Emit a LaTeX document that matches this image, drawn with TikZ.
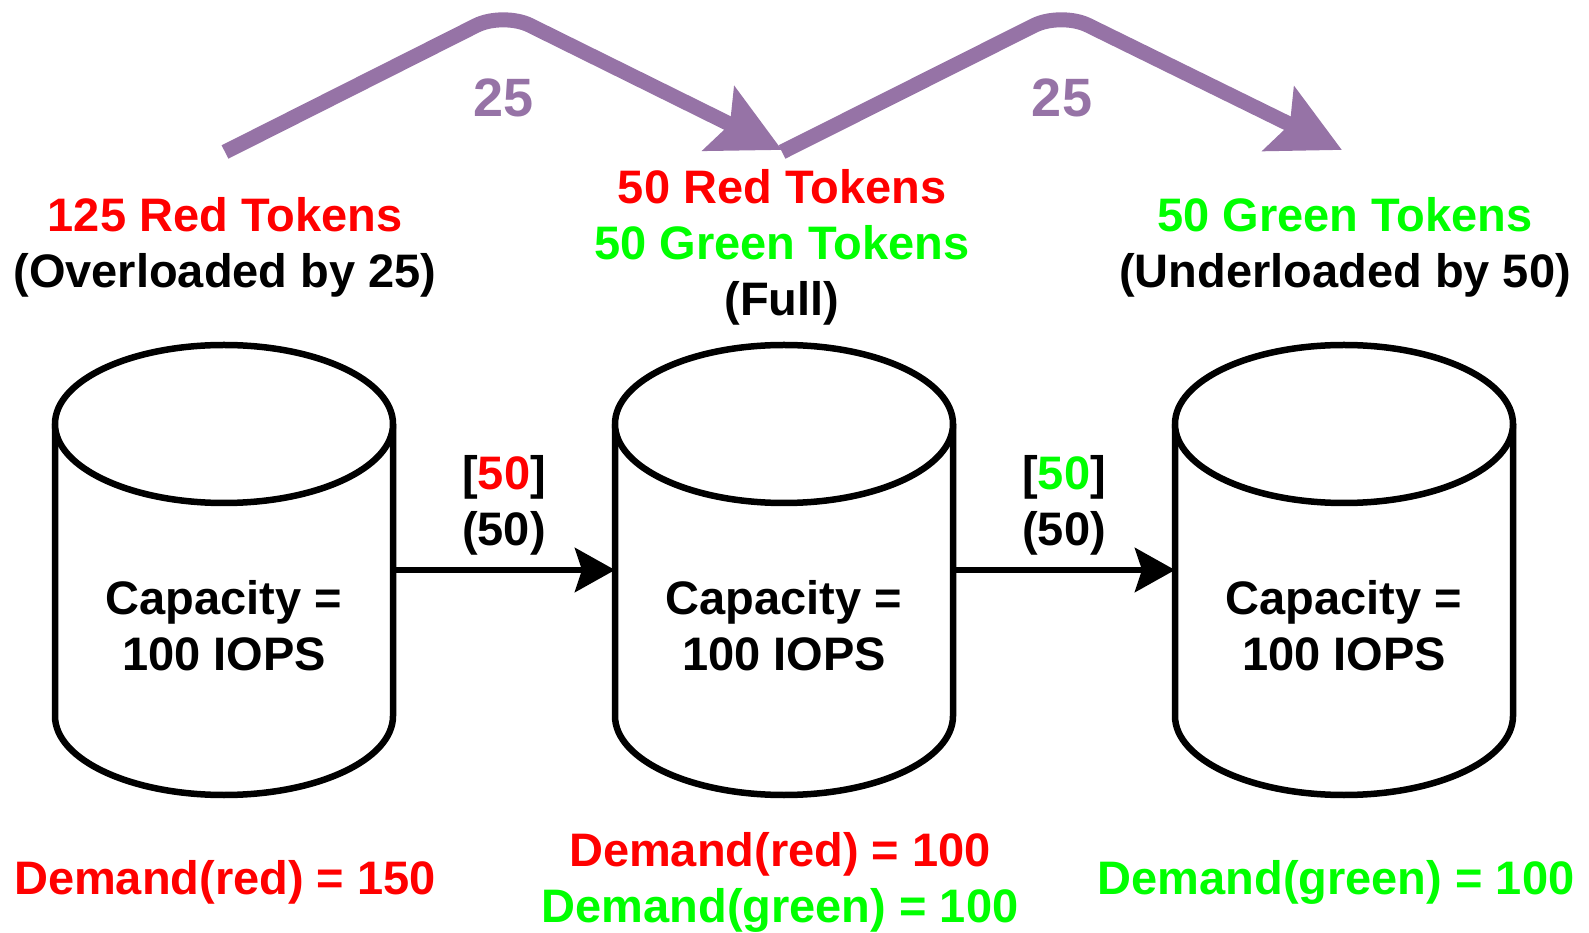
\documentclass[tikz,border=0pt]{standalone}
\usepackage{fontspec}
\setmainfont{Liberation Sans}
\usetikzlibrary{arrows.meta,calc}
\definecolor{rd}{HTML}{FF0000}
\definecolor{gn}{HTML}{00FF00}
\definecolor{pp}{HTML}{9673A6}
\tikzset{
 lbl/.style={font=\fontsize{47}{56}\selectfont\bfseries, align=center, inner sep=0pt},
 num/.style={font=\fontsize{54}{60}\selectfont\bfseries, text=pp, inner sep=0pt},
 cylbox/.style={minimum width=338pt, minimum height=450pt, inner sep=0pt, outer sep=0pt},
 cylline/.style={line width=6.5pt, fill=white},
 flow/.style={line width=6.5pt, -{Stealth[length=40pt,width=44pt,inset=7pt]}},
 token/.style={draw=pp, line width=15pt, rounded corners=30pt, -{Stealth[length=70pt,width=70pt,inset=12pt]}},
}
\newcommand\drawcyl[1]{%
  \draw[cylline] ($(#1.north west)+(0,-79)$) -- ($(#1.south west)+(0,79)$) arc[start angle=180,end angle=360,x radius=169,y radius=79] -- ($(#1.north east)+(0,-79)$);
  \draw[cylline] ($(#1.north)+(0,-79)$) ellipse[x radius=169, y radius=79];
}
\begin{document}
\begin{tikzpicture}[x=1pt,y=1pt]
\useasboundingbox (0,0) rectangle (1589,932);
% cylinders
\node[cylbox] (c1) at (224,362) {};
\node[cylbox] (c2) at (784,362) {};
\node[cylbox] (c3) at (1344,362) {};
\drawcyl{c1}
\drawcyl{c2}
\drawcyl{c3}
\node[lbl] (cap1) at ($(c1.center)+(0,-56)$) {Capacity =\\100 IOPS};
\node[lbl] (cap2) at ($(c2.center)+(0,-56)$) {Capacity =\\100 IOPS};
\node[lbl] (cap3) at ($(c3.center)+(0,-56)$) {Capacity =\\100 IOPS};
% flows
\draw[flow] (c1.east) -- (c2.west);
\draw[flow] (c2.east) -- (c3.west);
\node[lbl] (f1) at ($(c1.east)!0.5!(c2.west)+(0,65)$) {[\textcolor{rd}{50}]\\(50)};
\node[lbl] (f2) at ($(c2.east)!0.5!(c3.west)+(0,65)$) {[\textcolor{gn}{50}]\\(50)};
% top texts
\node[lbl] (s1) at (225,685) {\textcolor{rd}{125 Red Tokens}\\(Overloaded by 25)};
\node[lbl] (s2) at (782,685) {\textcolor{rd}{50 Red Tokens}\\\textcolor{gn}{50 Green Tokens}\\(Full)};
\node[lbl] (s3) at (1345,685) {\textcolor{gn}{50 Green Tokens}\\(Underloaded by 50)};
% demand texts
\node[lbl, text=rd] (d1) at (225,50) {Demand(red) = 150};
\node[lbl] (d2) at (780,50) {\textcolor{rd}{Demand(red) = 100}\\\textcolor{gn}{Demand(green) = 100}};
\node[lbl, text=gn] (d3) at (1336,50) {Demand(green) = 100};
% token transfers
\coordinate (t1s) at (225,780);
\coordinate (t1p) at (503,920);
\coordinate (t1e) at (782,782);
\coordinate (t2s) at (782,780);
\coordinate (t2p) at (1061,920);
\coordinate (t2e) at (1342,782);
\draw[token] (t1s) -- (t1p) -- (t1e);
\draw[token] (t2s) -- (t2p) -- (t2e);
\node[num] (n1) at (504,834) {25};
\node[num] (n2) at (1062,834) {25};
\end{tikzpicture}
\end{document}
